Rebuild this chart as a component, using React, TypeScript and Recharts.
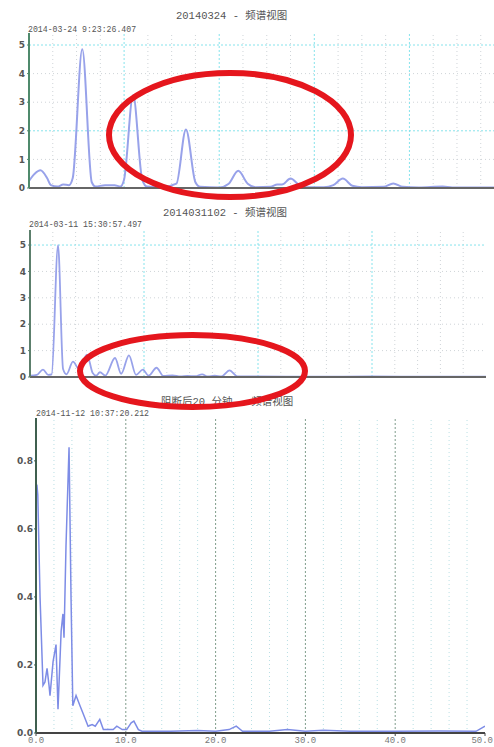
import { LineChart, Line, XAxis, YAxis, ReferenceLine } from "recharts";

// panel 1 — 20140324
const p1Freq = [0, 0.6, 1.2, 1.9, 2.3, 3.0, 3.6, 4.2, 4.6, 5.6, 6.6, 7.0, 8.0, 9.0, 9.6, 10.0, 10.95, 11.9, 12.4, 14.0, 15.5, 16.5, 17.5, 18.0, 20.0, 21.0, 22.0, 23.0, 23.8, 25.4, 26.1, 26.6, 27.5, 28.5, 29.2, 31.0, 32.0, 33.0, 34.0, 35.0, 37.3, 38.3, 39.3, 41.0, 43.5, 44.5, 49.0];
const p1Amp = [0.25, 0.5, 0.62, 0.35, 0.1, 0.05, 0.12, 0.1, 0.35, 4.85, 0.2, 0.05, 0.1, 0.1, 0.05, 0.3, 3.25, 0.3, 0.05, 0.03, 0.15, 2.05, 0.2, 0.04, 0.02, 0.15, 0.6, 0.15, 0.03, 0.04, 0.12, 0.12, 0.33, 0.08, 0.03, 0.03, 0.1, 0.33, 0.08, 0.03, 0.04, 0.16, 0.04, 0.02, 0.05, 0.02, 0.02];
const p1YTicks = [0, 1, 2, 3, 4, 5];
const p1GrayY = [1, 3, 4];
const p1CyanY = [2, 5];
const p1MinorX = [2.5, 5, 7.5, 12.5, 15, 17.5, 22.5, 25, 27.5, 32.5, 35, 37.5, 42.5, 45, 47.5];
const p1MajorX = [10, 20, 30, 40];

// panel 2 — 2014031102
const p2Freq = [0, 0.6, 1.14, 1.6, 1.9, 2.46, 2.9, 3.2, 3.77, 4.3, 5.0, 5.5, 5.8, 6.14, 6.6, 7.46, 8.0, 8.68, 9.3, 9.9, 10.4, 11.1, 11.7, 12.5, 13.2, 13.8, 14.5, 15.1, 15.6, 16.2, 16.8, 17.5, 18.2, 20.0, 25.0, 30.0, 35.0, 40.0];
const p2Amp = [0.05, 0.08, 0.28, 0.08, 0.1, 5.0, 0.3, 0.1, 0.58, 0.3, 0.85, 0.15, 0.05, 0.18, 0.05, 0.72, 0.12, 0.82, 0.08, 0.28, 0.05, 0.35, 0.04, 0.06, 0.02, 0.04, 0.03, 0.1, 0.02, 0.05, 0.02, 0.25, 0.02, 0.02, 0.01, 0.02, 0.01, 0.01];
const p2YTicks = [0, 1, 2, 3, 4, 5];
const p2GrayY = [1, 2, 3, 4];
const p2CyanY = [5];
const p2MinorX = [2, 4, 6, 8, 12, 14, 16, 18, 22, 24, 26, 28, 32, 34, 36, 38];
const p2MajorX = [10, 20, 30];

// panel 3 — 阻断后20分钟
const p3Freq = [0.1, 0.2, 0.45, 0.78, 1.0, 1.23, 1.45, 1.56, 1.9, 2.23, 2.45, 2.8, 3.0, 3.12, 3.34, 3.68, 3.9, 4.1, 4.46, 4.9, 5.2, 5.8, 6.25, 6.6, 7.1, 7.5, 8.0, 8.6, 9.0, 9.6, 10.1, 10.6, 10.9, 11.4, 11.8, 15.0, 18.0, 20.0, 21.5, 22.3, 23.0, 26.0, 28.0, 30.0, 32.0, 35.0, 40.0, 45.0, 49.0, 50.0];
const p3Amp = [0.73, 0.7, 0.4, 0.14, 0.15, 0.19, 0.14, 0.11, 0.21, 0.26, 0.07, 0.3, 0.35, 0.28, 0.55, 0.84, 0.4, 0.08, 0.11, 0.08, 0.06, 0.02, 0.025, 0.02, 0.04, 0.01, 0.01, 0.01, 0.02, 0.01, 0.01, 0.03, 0.035, 0.01, 0.005, 0.005, 0.007, 0.005, 0.01, 0.02, 0.005, 0.005, 0.01, 0.005, 0.008, 0.005, 0.005, 0.006, 0.005, 0.02];
const p3YTicks = [0, 0.2, 0.4, 0.6, 0.8];
const p3XTicks = [0, 10, 20, 30, 40, 50];
const p3MinorX = [2, 4, 6, 8, 12, 14, 16, 18, 22, 24, 26, 28, 32, 34, 36, 38, 42, 44, 46, 48];
const p3MajorX = [10, 20, 30, 40];

const blue = "#98a2ea";
const cyan = "#86e3ec";
const gray = "#cfd4d8";
const mono = "'Liberation Mono', 'Noto Sans CJK SC', monospace";

const toRows = (f: number[], a: number[]) => f.map((x, i) => ({ f: x, a: a[i] }));

const yTickStyle = { fontSize: 9, fill: "#555", fontFamily: "'DejaVu Sans'", fontWeight: 700 };

function Caption({ x, y, size, children }: { x: number; y: number; size: number; children: string }) {
  return (
    <div
      style={{
        position: "absolute",
        left: x,
        top: y,
        fontSize: size,
        lineHeight: 1,
        fontFamily: mono,
        color: "#555",
        whiteSpace: "nowrap",
      }}
    >
      {children}
    </div>
  );
}

// last x label sits at the right edge, so pull it in
function FreqTick(props: any) {
  const { x, y, payload } = props;
  const atEdge = x > 480;
  return (
    <text
      x={atEdge ? 493 : x}
      y={y}
      dy="0.71em"
      textAnchor={atEdge ? "end" : "middle"}
      fontSize={9}
      fill="#777"
      fontFamily={mono}
    >
      {payload.value.toFixed(1)}
    </text>
  );
}

export default function App() {
  return (
    <div
      style={{
        position: "absolute",
        left: 0,
        top: 0,
        width: 494,
        height: 747,
        overflow: "hidden",
        background: "#fff",
      }}
    >
      <Caption x={176} y={11} size={10.5}>20140324 - 频谱视图</Caption>
      <Caption x={28} y={26} size={8.2}>2014-03-24 9:23:26.407</Caption>
      <LineChart
        width={500}
        height={200}
        data={toRows(p1Freq, p1Amp)}
        margin={{ top: 33, right: 5, bottom: 0, left: 0 }}
        style={{ position: "absolute", left: 0, top: 0 }}
      >
        {p1MinorX.map((v) => (
          <ReferenceLine key={"m" + v} x={v} stroke={gray} strokeDasharray="1 3" />
        ))}
        {p1GrayY.map((v) => (
          <ReferenceLine key={"g" + v} y={v} stroke={gray} strokeDasharray="1 3" />
        ))}
        {p1MajorX.map((v) => (
          <ReferenceLine key={"M" + v} x={v} stroke={cyan} strokeDasharray="2 2" />
        ))}
        {p1CyanY.map((v) => (
          <ReferenceLine key={"c" + v} y={v} stroke={cyan} strokeDasharray="2 2" />
        ))}
        <XAxis
          type="number"
          dataKey="f"
          domain={[0, 49]}
          allowDataOverflow
          tick={false}
          tickLine={false}
          height={12}
          axisLine={{ stroke: "#666", strokeWidth: 2 }}
        />
        <YAxis
          type="number"
          domain={[0, 5.42]}
          allowDataOverflow
          ticks={p1YTicks}
          interval={0}
          width={29}
          tickSize={2}
          tickMargin={2}
          tick={yTickStyle}
          axisLine={{ stroke: "#4f8a6c", strokeWidth: 2 }}
          tickLine={{ stroke: "#4f8a6c" }}
        />
        <Line
          type="monotone"
          dataKey="a"
          stroke={blue}
          strokeWidth={2}
          dot={false}
          isAnimationActive={false}
        />
      </LineChart>

      <Caption x={163} y={208} size={10.5}>2014031102 - 频谱视图</Caption>
      <Caption x={29} y={221} size={8.2}>2014-03-11 15:30:57.497</Caption>
      <LineChart
        width={494}
        height={190}
        data={toRows(p2Freq, p2Amp)}
        margin={{ top: 30, right: 8, bottom: 0, left: 0 }}
        style={{ position: "absolute", left: 0, top: 200 }}
      >
        {p2MinorX.map((v) => (
          <ReferenceLine key={"m" + v} x={v} stroke={gray} strokeDasharray="1 3" />
        ))}
        {p2GrayY.map((v) => (
          <ReferenceLine key={"g" + v} y={v} stroke={gray} strokeDasharray="1 3" />
        ))}
        {p2MajorX.map((v) => (
          <ReferenceLine key={"M" + v} x={v} stroke={cyan} strokeDasharray="2 2" />
        ))}
        {p2CyanY.map((v) => (
          <ReferenceLine key={"c" + v} y={v} stroke={cyan} strokeDasharray="2 2" />
        ))}
        <XAxis
          type="number"
          dataKey="f"
          domain={[0, 40]}
          allowDataOverflow
          tick={false}
          tickLine={false}
          height={13}
          axisLine={{ stroke: "#666", strokeWidth: 2 }}
        />
        <YAxis
          type="number"
          domain={[0, 5.57]}
          allowDataOverflow
          ticks={p2YTicks}
          interval={0}
          width={30}
          tickSize={2}
          tickMargin={2}
          tick={yTickStyle}
          axisLine={{ stroke: "#5c7f6c", strokeWidth: 2 }}
          tickLine={{ stroke: "#5c7f6c" }}
        />
        <Line
          type="monotone"
          dataKey="a"
          stroke={blue}
          strokeWidth={1.8}
          dot={false}
          isAnimationActive={false}
        />
      </LineChart>

      <Caption x={161} y={397} size={10.5}>阻断后20 分钟 - 频谱视图</Caption>
      <Caption x={36} y={410} size={8.2}>2014-11-12 10:37:20.212</Caption>
      <LineChart
        width={494}
        height={347}
        data={toRows(p3Freq, p3Amp)}
        margin={{ top: 18, right: 9, bottom: 0, left: 0 }}
        style={{ position: "absolute", left: 0, top: 400 }}
      >
        {p3MinorX.map((v) => (
          <ReferenceLine key={"m" + v} x={v} stroke="#b9dfe4" strokeDasharray="1 3" />
        ))}
        {p3MajorX.map((v) => (
          <ReferenceLine key={"M" + v} x={v} stroke="#7f9c8b" strokeDasharray="2 2" />
        ))}
        <XAxis
          type="number"
          dataKey="f"
          domain={[0, 50]}
          allowDataOverflow
          ticks={p3XTicks}
          interval={0}
          height={14}
          tickSize={3}
          tickMargin={1}
          tick={<FreqTick />}
          axisLine={{ stroke: "#444", strokeWidth: 2 }}
          tickLine={{ stroke: "#444" }}
        />
        <YAxis
          type="number"
          domain={[0, 0.926]}
          allowDataOverflow
          ticks={p3YTicks}
          interval={0}
          width={36}
          tickSize={2}
          tickMargin={1}
          tickFormatter={(v) => v.toFixed(1)}
          tick={yTickStyle}
          axisLine={{ stroke: "#3f5f4f", strokeWidth: 2 }}
          tickLine={{ stroke: "#3f5f4f" }}
        />
        <Line
          type="linear"
          dataKey="a"
          stroke="#7d8ce6"
          strokeWidth={1.5}
          dot={false}
          isAnimationActive={false}
        />
      </LineChart>

      {/* red annotation rings */}
      <svg
        width={494}
        height={747}
        style={{ position: "absolute", left: 0, top: 0, pointerEvents: "none" }}
      >
        <ellipse cx={230} cy={135} rx={121} ry={62} fill="none" stroke="#e5161d" strokeWidth={6} />
        <ellipse cx={192.5} cy={371} rx={112.5} ry={36} fill="none" stroke="#e5161d" strokeWidth={6} />
      </svg>
    </div>
  );
}
